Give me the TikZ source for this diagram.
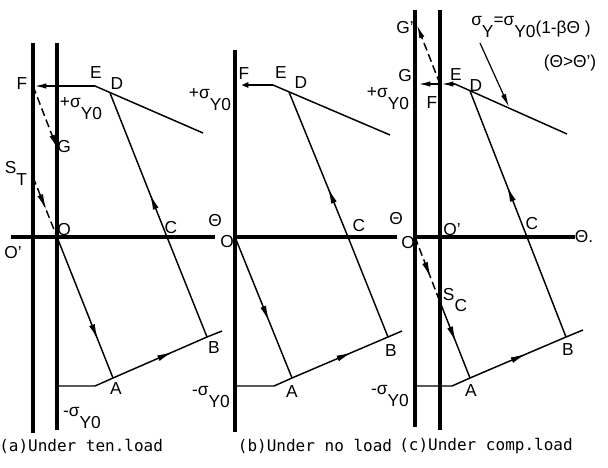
\documentclass[tikz,border=0pt]{standalone}
\usepackage{fontspec}
\setmainfont{Liberation Sans}
\newfontfamily\capfont{DejaVu Sans Mono}
\usepackage{tikz}
\usetikzlibrary{
  positioning, arrows.meta, calc, decorations.markings,
}
\newcommand{\lowsub}[2]{#1\raisebox{-1.3ex}{#2}}

\tikzset{
  thickline/.style={line width=2.3pt},
  pathline/.style={line width=1.1pt},
  dashline/.style={line width=1.1pt, dash pattern={on 6pt off 3pt}},
  tipend/.style={-{Latex[length=10pt,width=4pt]}},
  midarrow/.style={postaction={decorate},
    decoration={markings, mark=at position #1 with {\arrow[line width=1.1pt]{Latex[length=12pt,width=4.5pt]}}}},
  midarrow/.default=0.5,
  lbl/.style={font=\fontsize{13}{15}\selectfont, inner sep=0pt},
  capt/.style={font=\capfont\fontsize{12}{14}\selectfont, inner sep=0pt},
}

\begin{document}
\begin{tikzpicture}[x=0.75pt, y=-0.75pt]
  \useasboundingbox (0,0) rectangle (608,468);

  % ---- (a) under tension load
  \coordinate (aLt) at (33,43);   \coordinate (aLb) at (33,433);
  \coordinate (aRt) at (57,43);   \coordinate (aRb) at (57,430);
  \coordinate (aAx0) at (11,237); \coordinate (aAx1) at (215,237);
  \coordinate (aO) at (57,237);
  \coordinate (aF) at (33,86);    \coordinate (aE) at (95,86);
  \coordinate (aD) at (110,93);   \coordinate (aY) at (203,133);
  \coordinate (aC) at (167,237);  \coordinate (aB) at (207,337);
  \coordinate (aBx) at (222,331); \coordinate (aA) at (113,378);
  \coordinate (aK) at (95,386);   \coordinate (aH) at (57,386);
  \coordinate (aG) at (57,148);   \coordinate (aS) at (33,177);

  \draw[thickline] (aLt) -- (aLb);
  \draw[thickline] (aRt) -- (aRb);
  \draw[thickline] (aAx0) -- (aAx1);
  \draw[pathline] (aE) -- (aY);
  \draw[pathline, midarrow=0.3] (aC) -- (aD);
  \draw[pathline] (aC) -- (aB) -- (aBx);
  \draw[pathline, midarrow=0.73] (aO) -- (aA);
  \draw[pathline, midarrow=0.64] (aA) -- (aB);
  \draw[pathline] (aH) -- (aK) -- (aA);
  \draw[pathline, line width=1.5pt, tipend] (aE) -- (aF);
  \draw[dashline, tipend] (aF) -- (aG);
  \draw[dashline, midarrow=0.55] (aS) -- (aO);

  \node[lbl] (aFl) at (22,84) {F};
  \node[lbl] (aEl) at (96,73) {E};
  \node[lbl] (aDl) at (117,84) {D};
  \node[lbl] (aGl) at (64,147) {G};
  \node[lbl] (aSl) at (16,173) {\lowsub{S}{T}};
  \node[lbl] (aOl) at (64,230) {O};
  \node[lbl] (aOpl) at (13,253) {O'};
  \node[lbl] (aCl) at (171,228) {C};
  \node[lbl] (aAl) at (116,389) {A};
  \node[lbl] (aBl) at (214,348) {B};
  \node[lbl] (aPl) at (81,109) {+\lowsub{σ}{Y0}};
  \node[lbl] (aMl) at (82,418) {-\lowsub{σ}{Y0}};
  \node[capt, anchor=west] (aCap) at (-1,446) {(a)Under ten.load};

  % ---- (b) under no load
  \coordinate (bLt) at (235,50);   \coordinate (bLb) at (235,432);
  \coordinate (bAx0) at (235,237); \coordinate (bAx1) at (397,237);
  \coordinate (bO) at (235,237);
  \coordinate (bF) at (235,85);    \coordinate (bE) at (273,85);
  \coordinate (bD) at (289,92);    \coordinate (bY) at (390,135);
  \coordinate (bC) at (348,237);   \coordinate (bB) at (388,337);
  \coordinate (bBx) at (402,331);  \coordinate (bA) at (292,378);
  \coordinate (bK) at (274,386);   \coordinate (bH) at (235,386);

  \draw[thickline] (bLt) -- (bLb);
  \draw[thickline] (bAx0) -- (bAx1);
  \draw[pathline] (bE) -- (bY);
  \draw[pathline, midarrow=0.34] (bC) -- (bD);
  \draw[pathline] (bC) -- (bB) -- (bBx);
  \draw[pathline, midarrow=0.6] (bO) -- (bA);
  \draw[pathline, midarrow=0.63] (bA) -- (bB);
  \draw[pathline] (bH) -- (bK) -- (bA);
  \draw[pathline, line width=2pt, tipend] (bE) -- (bF);

  \node[lbl] (bFl) at (244,74) {F};
  \node[lbl] (bEl) at (281,73) {E};
  \node[lbl] (bDl) at (301,83) {D};
  \node[lbl] (bTl) at (215,221) {Θ};
  \node[lbl] (bOl) at (227,242) {O};
  \node[lbl] (bCl) at (359,226) {C};
  \node[lbl] (bAl) at (292,392) {A};
  \node[lbl] (bBl) at (391,351) {B};
  \node[lbl] (bPl) at (210,100) {+\lowsub{σ}{Y0}};
  \node[lbl] (bMl) at (211,397) {-\lowsub{σ}{Y0}};
  \node[capt] (bCap) at (315,446) {(b)Under no load};

  % ---- (c) under compression load
  \coordinate (cLt) at (415,10);   \coordinate (cLb) at (415,427);
  \coordinate (cRt) at (440,10);   \coordinate (cRb) at (440,430);
  \coordinate (cAx0) at (415,237); \coordinate (cAx1) at (575,237);
  \coordinate (cO) at (415,237);
  \coordinate (cG) at (417,84);    \coordinate (cF) at (440,84);
  \coordinate (cE) at (455,84);    \coordinate (cD) at (470,91);
  \coordinate (cY) at (567,134);
  \coordinate (cC) at (527,237);   \coordinate (cB) at (566,337);
  \coordinate (cBx) at (583,330);  \coordinate (cA) at (470,378);
  \coordinate (cK) at (452,386);   \coordinate (cH) at (415,386);
  \coordinate (cGp) at (417,25);   \coordinate (cS) at (440,302);
  \coordinate (cN0) at (480,43);   \coordinate (cN1) at (509,107);

  \draw[thickline] (cLt) -- (cLb);
  \draw[thickline] (cRt) -- (cRb);
  \draw[thickline] (cAx0) -- (cAx1);
  \draw[pathline] (cE) -- (cY);
  \draw[pathline, midarrow=0.35] (cC) -- (cD);
  \draw[pathline] (cC) -- (cB) -- (cBx);
  \draw[dashline, midarrow=0.63] (cO) -- (cS);
  \draw[pathline, midarrow=0.53] (cS) -- (cA);
  \draw[pathline, midarrow=0.59] (cA) -- (cB);
  \draw[pathline] (cH) -- (cK) -- (cA);
  \draw[pathline, line width=1.5pt, tipend] (cE) -- (cF);
  \draw[pathline, line width=1.5pt, tipend] (cF) -- (cG);
  \draw[dashline, tipend] (cF) -- (cGp);
  \draw[pathline, line width=0.9pt, tipend] (cN0) -- (cN1);

  \node[lbl] (cGpl) at (405,28) {G'};
  \node[lbl] (cGl) at (405,76) {G};
  \node[lbl] (cFl) at (432,103) {F};
  \node[lbl] (cEl) at (456,75) {E};
  \node[lbl] (cDl) at (476,86) {D};
  \node[lbl] (cTl) at (396,219) {Θ};
  \node[lbl] (cOl) at (408,243) {O};
  \node[lbl] (cOpl) at (452,230) {O'};
  \node[lbl] (cTel) at (584,237) {Θ.};
  \node[lbl] (cSl) at (455,300) {\lowsub{S}{C}};
  \node[lbl] (cCl) at (532,224) {C};
  \node[lbl] (cAl) at (471,391) {A};
  \node[lbl] (cBl) at (568,350) {B};
  \node[lbl] (cPl) at (388,99) {+\lowsub{σ}{Y0}};
  \node[lbl] (cMl) at (390,396) {-\lowsub{σ}{Y0}};
  \node[lbl, anchor=west] (cLaw) at (471,27)
    {\lowsub{σ}{Y}=\lowsub{σ}{Y0}\raisebox{-0.9ex}{(1-βΘ~)}};
  \node[lbl] (cCond) at (570,63) {(Θ>Θ')};
  \node[capt] (cCap) at (486,446) {(c)Under comp.load};
\end{tikzpicture}
\end{document}
